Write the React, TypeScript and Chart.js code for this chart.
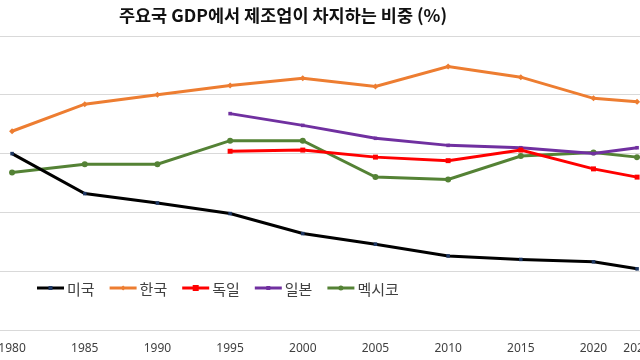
import React, { useEffect, useRef } from "react";
import { Chart, registerables } from "chart.js";

Chart.register(...registerables);

const TITLE = "주요국 GDP에서 제조업이 차지하는 비중 (%)";
const years = [1980, 1985, 1990, 1995, 2000, 2005, 2010, 2015, 2020, 2023];
const usa = [20.0, 16.6, 15.8, 14.9, 13.2, 12.3, 11.3, 11.0, 10.8, 10.2];
const korea = [21.9, 24.2, 25.0, 25.8, 26.4, 25.7, 27.4, 26.5, 24.7, 24.4];
const germany = [null, null, null, 20.2, 20.3, 19.7, 19.4, 20.3, 18.7, 18.0];
const japan = [null, null, null, 23.4, 22.4, 21.3, 20.7, 20.5, 20.0, 20.5];
const mexico = [18.4, 19.1, 19.1, 21.1, 21.1, 18.0, 17.8, 19.8, 20.1, 19.7];
const seriesNames = ["미국", "한국", "독일", "일본", "멕시코"];
const xTicks = [1980, 1985, 1990, 1995, 2000, 2005, 2010, 2015, 2020, 2023];
const yMin = 5;
const yMax = 30;
const yStep = 5;

type Style = { color: string; pointColor: string; pointStyle: string; radius: number };
const styles: Style[] = [
  { color: "#000000", pointColor: "#1F3864", pointStyle: "rect", radius: 2.5 },
  { color: "#ED7D31", pointColor: "#ED7D31", pointStyle: "rectRot", radius: 3 },
  { color: "#FF0000", pointColor: "#FF0000", pointStyle: "rect", radius: 3.5 },
  { color: "#7030A0", pointColor: "#7030A0", pointStyle: "rect", radius: 2.5 },
  { color: "#548235", pointColor: "#548235", pointStyle: "circle", radius: 3 },
];

const seriesValues = [usa, korea, germany, japan, mexico];

function toPoints(vals: (number | null)[]) {
  const pts: { x: number; y: number }[] = [];
  vals.forEach((v, i) => {
    if (v !== null) pts.push({ x: years[i], y: v });
  });
  return pts;
}

function drawMarker(ctx: CanvasRenderingContext2D, style: string, x: number, y: number, r: number) {
  ctx.beginPath();
  if (style === "rect") {
    ctx.rect(x - r, y - r, 2 * r, 2 * r);
  } else if (style === "rectRot") {
    ctx.moveTo(x, y - r);
    ctx.lineTo(x + r, y);
    ctx.lineTo(x, y + r);
    ctx.lineTo(x - r, y);
    ctx.closePath();
  } else {
    ctx.arc(x, y, r, 0, Math.PI * 2);
  }
  ctx.fill();
}

const overlayPlugin = {
  id: "overlay",
  afterDraw(chart: any) {
    const ctx: CanvasRenderingContext2D = chart.ctx;
    const area = chart.chartArea;
    ctx.save();
    // title
    ctx.font = "bold 17.5px 'Noto Sans CJK KR'";
    ctx.fillStyle = "#111111";
    ctx.textAlign = "center";
    ctx.textBaseline = "middle";
    ctx.fillText(TITLE, 283, 15);
    // legend
    ctx.font = "15px 'Noto Sans CJK KR'";
    ctx.textAlign = "left";
    let x = area.left + 37;
    const y = area.bottom - 42;
    seriesNames.forEach((name, i) => {
      const st = styles[i];
      ctx.strokeStyle = st.color;
      ctx.lineWidth = 3;
      ctx.beginPath();
      ctx.moveTo(x, y);
      ctx.lineTo(x + 27, y);
      ctx.stroke();
      ctx.fillStyle = st.pointColor;
      drawMarker(ctx, st.pointStyle, x + 13.5, y, st.radius - 0.5);
      ctx.fillStyle = "#404040";
      ctx.fillText(name, x + 30, y + 1);
      x += 30 + ctx.measureText(name).width + 15;
    });
    ctx.restore();
  },
};

export default function App() {
  const ref = useRef<HTMLCanvasElement>(null);
  useEffect(() => {
    if (!ref.current) return;
    const chart = new Chart(ref.current, {
      type: "line",
      data: {
        datasets: seriesNames.map((name, i) => ({
          label: name,
          data: toPoints(seriesValues[i]),
          borderColor: styles[i].color,
          backgroundColor: styles[i].pointColor,
          pointBackgroundColor: styles[i].pointColor,
          pointBorderColor: styles[i].pointColor,
          pointBorderWidth: 0,
          pointStyle: styles[i].pointStyle as any,
          pointRadius: styles[i].radius,
          borderWidth: 3,
          tension: 0,
        })),
      },
      options: {
        animation: false,
        responsive: false,
        devicePixelRatio: 1,
        layout: { autoPadding: false, padding: { top: 36, bottom: 4, left: 0, right: 0 } },
        plugins: {
          legend: { display: false },
          title: { display: false },
          tooltip: { enabled: false },
        },
        scales: {
          x: {
            type: "linear",
            min: 1979.17,
            max: 2023.2,
            grid: { display: false, drawTicks: false },
            border: { display: true, color: "#d9d9d9" },
            afterBuildTicks: (s: any) => {
              s.ticks = xTicks.map((v) => ({ value: v }));
            },
            afterFit: (s: any) => {
              s.paddingLeft = 0;
              s.paddingRight = 0;
              s.height = 26;
            },
            ticks: {
              padding: 11,
              maxRotation: 0,
              autoSkip: false,
              color: "#404040",
              font: { family: "'Noto Sans'", size: 12 },
              callback: (v: any) => String(v),
            },
          },
          y: {
            min: yMin,
            max: yMax,
            ticks: { display: false, stepSize: yStep },
            grid: { color: "#d9d9d9", drawTicks: false, lineWidth: 1 },
            border: { display: false },
            afterFit: (s: any) => {
              s.width = 0;
              s.paddingTop = 0;
              s.paddingBottom = 0;
            },
          },
        },
      },
      plugins: [overlayPlugin],
    });
    return () => chart.destroy();
  }, []);
  return (
    <div style={{ position: "fixed", left: 0, top: 0, width: 640, height: 360, background: "#fff", overflow: "hidden" }}>
      <canvas ref={ref} width={640} height={360} style={{ display: "block" }} />
    </div>
  );
}
